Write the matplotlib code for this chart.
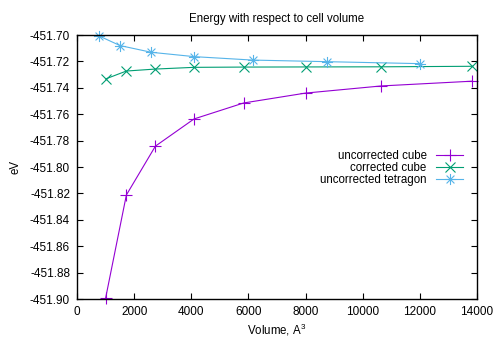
import matplotlib
matplotlib.use("Agg")
import matplotlib.pyplot as plt
from matplotlib.ticker import MultipleLocator, FormatStrFormatter
from matplotlib.path import Path
import numpy as np

vol_cube = [1000, 1728, 2744, 4096, 5832, 8000, 10648, 13824]
e_uncorr_cube = [-451.8995, -451.8212, -451.7842, -451.7636, -451.7515, -451.7440, -451.7386, -451.7350]
e_corr_cube = [-451.7333, -451.7273, -451.7258, -451.7245, -451.7243, -451.7242, -451.7241, -451.7237]
vol_tetra = [780, 1505, 2600, 4106, 6146, 8735, 12000]
e_uncorr_tetra = [-451.7008, -451.7080, -451.7131, -451.7164, -451.7190, -451.7202, -451.7217]

labels = ["uncorrected cube", "corrected cube", "uncorrected tetragon"]
colors = ["#9400d3", "#009e73", "#56b4e9"]

# gnuplot-style asterisk: plus and cross overlaid (unfilled segments)
verts = []
codes = []
for a in np.arange(0, 180, 45):
    r = np.deg2rad(a)
    c, s = np.cos(r), np.sin(r)
    verts += [(-c, -s), (c, s)]
    codes += [Path.MOVETO, Path.LINETO]
star = Path(verts, codes)

FS = 8.3
FT = 8.5
plt.rcParams['font.family'] = ['Liberation Sans', 'DejaVu Sans']
plt.rcParams['mathtext.fontset'] = 'custom'
plt.rcParams['mathtext.rm'] = 'Liberation Sans'
fig = plt.figure(figsize=(4.98, 3.49), dpi=100)
ax = fig.add_axes([77/498, 50/349, 400/498, 264/349])

ax.plot(vol_cube, e_uncorr_cube, color=colors[0], lw=0.8, marker='+', ms=8, mew=0.8,
        label=labels[0], clip_on=False)
ax.plot(vol_cube, e_corr_cube, color=colors[1], lw=0.8, marker='x', ms=6.5, mew=0.8,
        label=labels[1], clip_on=False)
ax.plot(vol_tetra, e_uncorr_tetra, color=colors[2], lw=0.8, marker=star, ms=8, mew=0.8,
        mfc='none', label=labels[2], clip_on=False)

ax.set_xlim(0, 14000)
ax.set_ylim(-451.90, -451.70)
ax.xaxis.set_major_locator(MultipleLocator(2000))
ax.yaxis.set_major_locator(MultipleLocator(0.02))
ax.yaxis.set_major_formatter(FormatStrFormatter('%.2f'))
ax.tick_params(direction='in', top=True, right=True, labelsize=FT, length=4, width=0.8, pad=5)
for s in ax.spines.values():
    s.set_linewidth(1.0)

ax.set_title("Energy with respect to cell volume", fontsize=FS, pad=9.5)
ax.set_xlabel("Volume, A$^3$", fontsize=FS, labelpad=3)
ax.set_ylabel("eV", fontsize=FS, labelpad=6)

leg = ax.legend(loc='upper right', bbox_to_anchor=(0.9775, 0.581), frameon=False,
                markerfirst=False, fontsize=FS, handlelength=2.4, labelspacing=0.0,
                handletextpad=0.8, borderaxespad=0)
for t in leg.get_texts():
    t.set_ha('right')
leg._legend_box.align = "right"

fig.savefig("out.png", dpi=100)
